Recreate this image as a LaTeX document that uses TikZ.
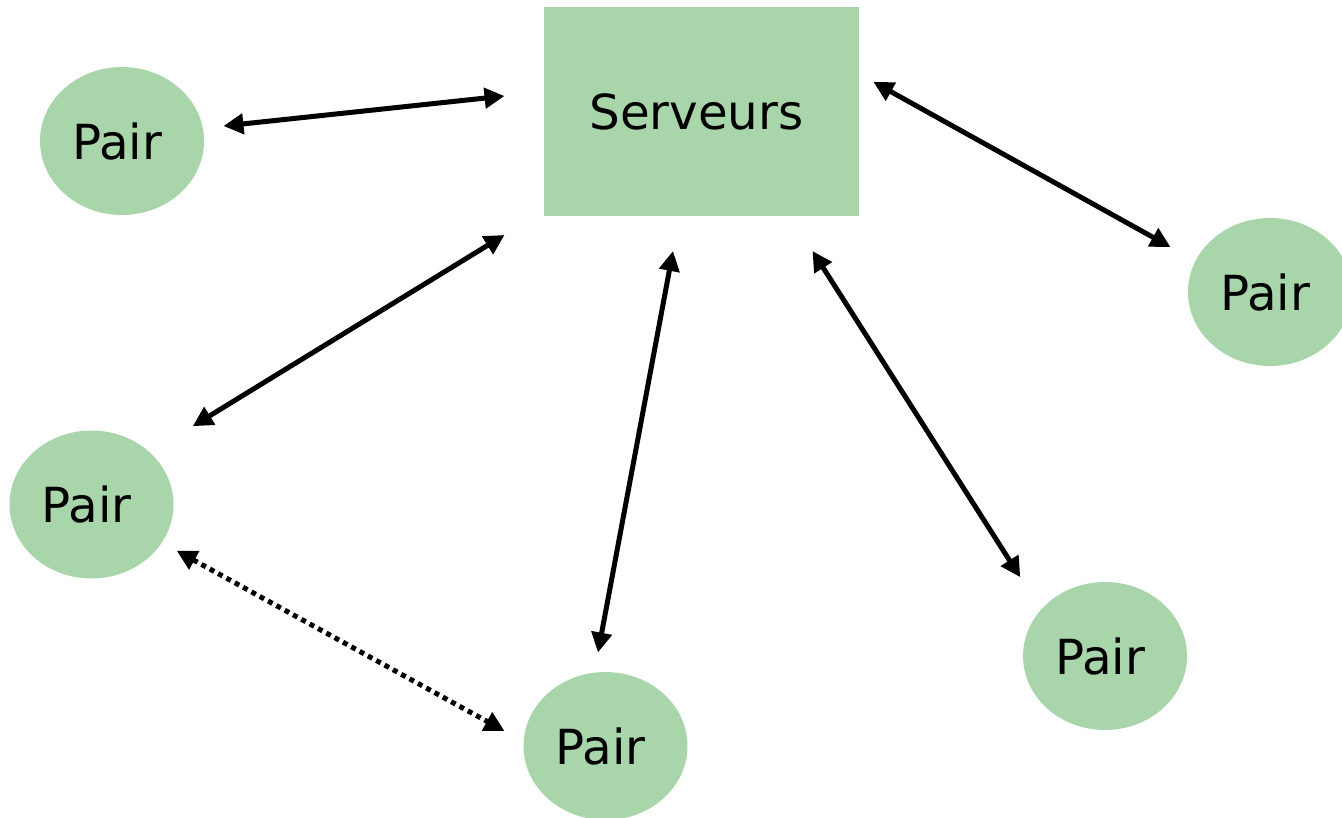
\documentclass[tikz,border=0pt]{standalone}
\usepackage{fontspec}
\setmainfont{DejaVu Sans}
\usetikzlibrary{arrows.meta,shapes.geometric}
\definecolor{pairgreen}{RGB}{168,213,170}
\begin{document}
\begin{tikzpicture}[<->, >={Triangle[length=0.4cm, width=0.4cm]}, x=0.02cm, y=-0.02cm, line width=0.1cm,
    font=\fontsize{27.5}{33}\selectfont,
    pair/.style={ellipse, fill=pairgreen, minimum width=3.28cm, minimum height=2.96cm, inner sep=0pt},
    dots/.style={dash pattern=on 0.1cm off 0.09cm}]
            \useasboundingbox (0,0) rectangle (1342,818);
            \node[fill=pairgreen, minimum width=6.3cm, minimum height=4.18cm] (0) at (701.5,111.5) {Serveurs\hspace*{0.2cm}};
            \node[pair] (1) at (122,141) {Pair\hspace*{0.2cm}};
            \node[pair] (2) at (1270,292) {Pair\hspace*{0.2cm}};
            \node[pair] (3) at (91.5,504.5) {Pair\hspace*{0.2cm}};
            \node[pair] (4) at (605.5,746) {Pair\hspace*{0.2cm}};
            \node[pair] (5) at (1105,656) {Pair\hspace*{0.2cm}};
            \path
            ([shift={(17,-15)}]1.east) edge ([shift={(-37,-15.5)}]0.west)
            ([shift={(12,-29.5)}]0.east) edge ([shift={(-15,-45)}]2.west)
            ([shift={(-37,16.5)}]0.south west) edge ([shift={(41.5,-24.2)}]3.north east)
            ([shift={(-28.5,32.5)}]0.south) edge ([shift={(-7.5,-17)}]4.north)
            ([shift={(-49,32.5)}]0.south east) edge ([shift={(-25,-24.7)}]5.north west)
            ([shift={(25.5,-7.8)}]3.south east) edge [dots] ([shift={(-16.5,-15)}]4.west);
        \end{tikzpicture}
\end{document}
